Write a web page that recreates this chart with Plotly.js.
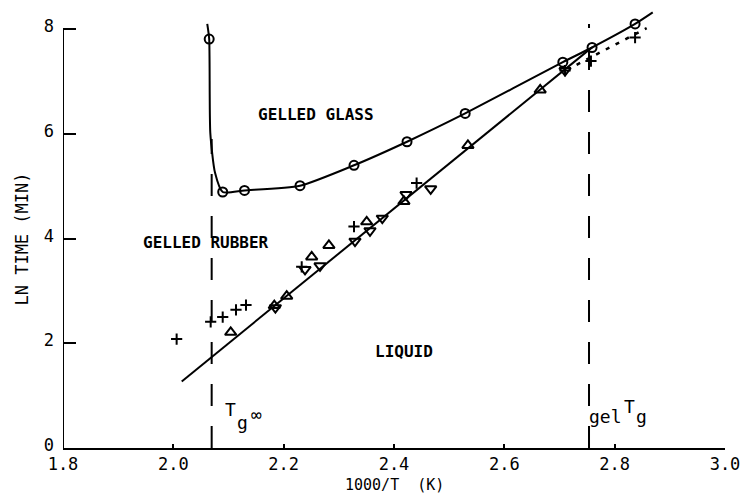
<!DOCTYPE html>
<html>
<head>
<meta charset="utf-8">
<script src="https://cdn.plot.ly/plotly-3.0.1.min.js"></script>
<style>html,body{margin:0;padding:0;background:#fff;}#chart{width:744px;height:497px;}</style>
</head>
<body>
<div id="chart"></div>
<script>
// Open circles: gelled-glass boundary
const circleX = [2.065, 2.0895, 2.129, 2.2296, 2.3275, 2.4236, 2.529, 2.706, 2.759, 2.837];
const circleY = [7.81, 4.89, 4.92, 5.01, 5.40, 5.85, 6.39, 7.37, 7.65, 8.10];

// Smooth curve through the gelled-glass boundary
const glassCurveX = [2.0615, 2.065, 2.067, 2.0755, 2.0895, 2.129, 2.2296, 2.3275, 2.4236, 2.529, 2.706, 2.759, 2.837, 2.869];
const glassCurveY = [8.10, 7.81, 6.02, 5.26, 4.89, 4.92, 5.01, 5.40, 5.85, 6.39, 7.37, 7.65, 8.10, 8.32];

// Triangles (up)
const triUpX = [2.104, 2.183, 2.2055, 2.2508, 2.282, 2.3505, 2.418, 2.534, 2.665];
const triUpY = [2.21, 2.72, 2.90, 3.65, 3.87, 4.32, 4.71, 5.78, 6.84];

// Triangles (down)
const triDownX = [2.185, 2.2387, 2.2659, 2.3293, 2.3565, 2.3788, 2.4218, 2.4665, 2.71];
const triDownY = [2.68, 3.41, 3.48, 3.95, 4.15, 4.39, 4.84, 4.95, 7.21];

// Crosses
const crossX = [2.006, 2.0677, 2.0895, 2.1136, 2.1317, 2.2327, 2.3275, 2.441, 2.71, 2.757, 2.837];
const crossY = [2.08, 2.41, 2.50, 2.64, 2.73, 3.46, 4.23, 5.06, 7.21, 7.39, 7.84];

// Straight liquid line and dotted extension
const liquidLineX = [2.0152, 2.7589];
const liquidLineY = [1.272, 7.652];
const dottedLineX = [2.731, 2.858];
const dottedLineY = [7.32, 8.02];

// Characteristic temperatures (1000/T)
const tgInf = 2.0695;
const gelTg = 2.7535;

const xTicks = [1.8, 2.0, 2.2, 2.4, 2.6, 2.8, 3.0];
const xTickText = ['1.8', '2.0', '2.2', '2.4', '2.6', '2.8', '3.0'];
const yTicks = [0, 2, 4, 6, 8];
const yTickText = ['0', '2', '4', '6', '8'];

const mono = 'DejaVu Sans Mono, monospace';

const traces = [
  {x: glassCurveX, y: glassCurveY, mode: 'lines', line: {color: '#000', width: 2, shape: 'spline', smoothing: 0.6}, hoverinfo: 'skip'},
  {x: liquidLineX, y: liquidLineY, mode: 'lines', line: {color: '#000', width: 2}, hoverinfo: 'skip'},
  {x: dottedLineX, y: dottedLineY, mode: 'lines', line: {color: '#000', width: 2.5, dash: '4px,7px'}, hoverinfo: 'skip'},
  {x: [tgInf, tgInf], y: [0, 5.9], mode: 'lines', line: {color: '#000', width: 2, dash: '22px,20px'}, hoverinfo: 'skip'},
  {x: [gelTg, gelTg], y: [0, 8.1], mode: 'lines', line: {color: '#000', width: 2, dash: '22px,20px'}, hoverinfo: 'skip'},
  {x: circleX, y: circleY, mode: 'markers', marker: {symbol: 'circle-open', size: 9, color: '#000', line: {width: 2}}},
  {x: triUpX, y: triUpY, mode: 'markers', marker: {symbol: 'triangle-up-open', size: 10, color: '#000', line: {width: 2}}},
  {x: triDownX, y: triDownY, mode: 'markers', marker: {symbol: 'triangle-down-open', size: 10, color: '#000', line: {width: 2}}},
  {x: crossX, y: crossY, mode: 'markers', marker: {symbol: 'cross-thin-open', size: 8, color: '#000', line: {width: 2, color: '#000'}}}
];

const annFont = {family: mono, size: 16, color: '#000'};
const symFont = {family: mono, size: 18, color: '#000'};
const layout = {
  width: 744, height: 497,
  margin: {l: 63, r: 19, t: 3, b: 49},
  paper_bgcolor: '#fff', plot_bgcolor: '#fff',
  showlegend: false,
  xaxis: {
    range: [1.8, 3.0], tickvals: xTicks, ticktext: xTickText,
    ticks: 'inside', ticklen: 4, tickwidth: 2, tickcolor: '#000',
    showline: true, linecolor: '#000', linewidth: 2,
    showgrid: false, zeroline: false,
    ticklabelstandoff: 0,
    tickfont: {family: mono, size: 17, color: '#000'}
  },
  yaxis: {
    range: [0, 8.5], tickvals: yTicks, ticktext: yTickText,
    ticks: 'inside', ticklen: 13, tickwidth: 2, tickcolor: '#000',
    showline: false, showgrid: false, zeroline: false,
    ticklabelstandoff: 8, ticklabelshift: -3,
    tickfont: {family: mono, size: 17, color: '#000'}
  },
  shapes: [
    {type: 'line', xref: 'x', yref: 'y', x0: 1.8, x1: 1.8, y0: 0, y1: 8, line: {color: '#000', width: 2}}
  ],
  annotations: [
    {text: '1000/T  (K)', xref: 'paper', yref: 'paper', x: 0.5, y: -0.108, yanchor: 'bottom', showarrow: false, font: {family: mono, size: 15, color: '#000'}},
    {text: 'LN TIME (MIN)', xref: 'paper', yref: 'y', x: -0.062, y: 4.0, xanchor: 'center', yanchor: 'middle', textangle: -90, showarrow: false, font: {family: mono, size: 17, color: '#000'}},
    {text: '<b>GELLED GLASS</b>', x: 2.2586, y: 6.37, showarrow: false, font: annFont},
    {text: '<b>GELLED RUBBER</b>', x: 2.059, y: 3.92, showarrow: false, font: annFont},
    {text: '<b>LIQUID</b>', x: 2.418, y: 1.84, showarrow: false, font: annFont},
    // T g ∞ label near the left dashed line
    {text: 'T', x: 2.104, y: 0.73, showarrow: false, font: symFont},
    {text: 'g', x: 2.125, y: 0.48, showarrow: false, font: symFont},
    {text: '∞', x: 2.150, y: 0.64, showarrow: false, font: symFont},
    // gel T g label near the right dashed line
    {text: 'gel', x: 2.784, y: 0.60, showarrow: false, font: symFont},
    {text: 'T', x: 2.826, y: 0.80, showarrow: false, font: symFont},
    {text: 'g', x: 2.849, y: 0.60, showarrow: false, font: symFont}
  ]
};

Plotly.newPlot('chart', traces, layout, {displayModeBar: false, staticPlot: true});
</script>
</body>
</html>
